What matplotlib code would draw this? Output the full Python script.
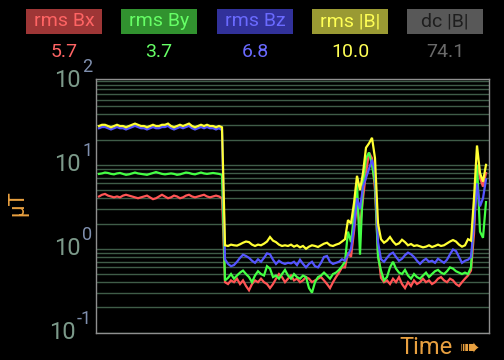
import matplotlib
matplotlib.use("Agg")
import matplotlib.pyplot as plt
import matplotlib.transforms as mtransforms
import numpy as np

plt.rcParams['font.family'] = ['Roboto', 'DejaVu Sans']

# ---------------- data ----------------
header_labels = ["rms Bx", "rms By", "rms Bz", "rms |B|", "dc |B|"]
header_values = ["5.7", "3.7", "6.8", "10.0", "74.1"]

rms_bx = [
    4.2, 4.4, 4.5, 4.3, 4.2, 4.1, 4.2, 4.1, 4.3, 4.4, 4.3, 4.2, 4.1, 4.0, 4.1, 4.2, 4.3, 4.1, 3.9, 4.0,
    4.2, 4.4, 4.2, 4.0, 4.1, 4.3, 4.2, 4.0, 4.1, 4.3, 4.4, 4.2, 4.1, 4.2, 4.3, 4.4, 4.2, 4.1, 4.2, 4.3,
    4.2, 4.0,
    0.40, 0.38, 0.42, 0.40, 0.44, 0.38, 0.42, 0.36, 0.32, 0.38, 0.42, 0.40, 0.44, 0.40, 0.38, 0.34, 0.38, 0.44, 0.50, 0.46,
    0.40, 0.44, 0.48, 0.42, 0.44, 0.40, 0.42, 0.46, 0.44, 0.40, 0.42, 0.44, 0.46, 0.42, 0.38, 0.34, 0.40, 0.46, 0.52, 0.60,
    0.6, 0.9, 0.8, 1.6, 3.5, 1.8, 4.0, 8.0, 14.0, 12.0, 5.0, 0.9,
    0.45, 0.40, 0.42, 0.38, 0.44, 0.40, 0.46, 0.38, 0.34, 0.40, 0.36, 0.42, 0.38, 0.40, 0.44, 0.40, 0.42, 0.38, 0.40, 0.44,
    0.46, 0.42, 0.40, 0.44, 0.42, 0.38, 0.36, 0.40, 0.44, 0.48, 0.55,
    1.5, 10.0, 7.0, 5.5, 8.0,
]
rms_by = [
    7.8, 7.9, 8.1, 8.0, 7.8, 7.7, 7.9, 8.0, 7.8, 7.6, 7.7, 7.9, 8.1, 7.9, 7.8, 7.7, 7.6, 7.8, 8.0, 8.2,
    8.0, 7.8, 7.7, 7.8, 7.9, 7.8, 7.6, 7.7, 7.9, 8.1, 8.0, 7.8, 7.7, 7.9, 8.1, 7.9, 7.8, 7.9, 8.0, 7.9,
    7.8, 7.6,
    0.42, 0.45, 0.50, 0.44, 0.48, 0.52, 0.55, 0.50, 0.46, 0.40, 0.48, 0.54, 0.50, 0.48, 0.62, 0.58, 0.46, 0.48, 0.44, 0.50,
    0.56, 0.48, 0.44, 0.50, 0.46, 0.44, 0.48, 0.46, 0.34, 0.30, 0.40, 0.46, 0.48, 0.52, 0.48, 0.44, 0.50, 0.52, 0.56, 0.62,
    0.7, 1.6, 1.2, 2.5, 6.0, 0.85, 6.0, 12.0, 14.0, 10.0, 6.0, 0.8,
    0.55, 0.42, 0.46, 0.60, 0.70, 0.58, 0.52, 0.50, 0.56, 0.48, 0.44, 0.50, 0.46, 0.44, 0.48, 0.52, 0.46, 0.50, 0.54, 0.56,
    0.52, 0.50, 0.54, 0.60, 0.58, 0.54, 0.52, 0.50, 0.52, 0.50, 0.60,
    2.5, 10.0, 1.6, 1.35, 3.6,
]
rms_bz = [
    27.3, 28.2, 28.2, 27.3, 26.4, 27.3, 28.2, 27.3, 27.3, 26.4, 27.3, 28.2, 29.1, 28.2, 27.3, 27.3, 26.4, 27.3, 28.2, 27.3,
    27.3, 28.2, 28.2, 29.1, 27.3, 26.4, 27.3, 28.2, 27.3, 28.2, 29.1, 27.3, 26.4, 27.3, 28.2, 27.3, 28.2, 27.3, 27.3, 26.4,
    27.3, 26.0,
    0.75, 0.66, 0.62, 0.64, 0.70, 0.78, 0.85, 0.82, 0.78, 0.72, 0.68, 0.75, 0.70, 0.78, 0.88, 0.86, 0.74, 0.66, 0.72, 0.68,
    0.66, 0.68, 0.67, 0.70, 0.64, 0.74, 0.66, 0.60, 0.66, 0.70, 0.62, 0.60, 0.68, 0.80, 0.82, 0.70, 0.66, 0.68, 0.70, 0.75,
    0.72, 0.85, 1.0, 1.8, 4.0, 3.0, 5.5, 7.0, 9.0, 11.5, 8.0, 1.2,
    0.75, 0.70, 0.78, 0.86, 0.90, 0.80, 0.72, 0.76, 0.84, 0.90, 0.86, 0.80, 0.72, 0.66, 0.72, 0.76, 0.70, 0.72, 0.68, 0.76,
    0.72, 0.68, 0.74, 0.86, 0.98, 0.94, 0.80, 0.68, 0.72, 0.74, 0.80,
    2.0, 6.0, 3.2, 4.0, 6.7,
]
rms_b = [
    29, 30, 30, 29, 28, 29, 30, 29, 29, 28, 29, 30, 31, 30, 29, 29, 28, 29, 30, 29,
    29, 30, 30, 31, 29, 28, 29, 30, 29, 30, 31, 29, 28, 29, 30, 29, 30, 29, 29, 28,
    29, 28,
    1.10, 1.08, 1.12, 1.10, 1.09, 1.13, 1.18, 1.22, 1.20, 1.12, 1.08, 1.12, 1.10, 1.15, 1.22, 1.38, 1.25, 1.20, 1.12, 1.08,
    1.10, 1.08, 1.12, 1.06, 1.10, 1.04, 1.08, 1.00, 1.06, 1.10, 1.08, 1.05, 1.10, 1.15, 1.18, 1.10, 1.08, 1.12, 1.15, 1.22,
    1.3, 2.2, 2.0, 3.5, 7.4, 5.0, 8.0, 16.0, 18.0, 21.0, 12.0, 2.0,
    1.30, 1.18, 1.25, 1.38, 1.22, 1.12, 1.16, 1.28, 1.20, 1.10, 1.14, 1.08, 1.10, 1.07, 1.04, 1.06, 1.10, 1.05, 1.08, 1.12,
    1.08, 1.10, 1.16, 1.22, 1.27, 1.22, 1.12, 1.06, 1.10, 1.30, 1.25,
    4.0, 17.0, 8.0, 6.3, 10.0,
]
series = [rms_bx, rms_by, rms_bz, rms_b]

ytick_vals = [0.1, 1, 10, 100]
ytick_exps = ["-1", "0", "1", "2"]

# ---------------- styles ----------------
bg = "black"
line_colors = ["#ff5555", "#44ff44", "#5555ff", "#ffff33"]
box_colors = ["#9e3636", "#31922f", "#31319a", "#9a9a33", "#585858"]
box_text_colors = ["#ff6464", "#66ff66", "#6a6aff", "#ffff55", "#1e1e1e"]
value_colors = ["#ff6464", "#66ff66", "#6a6aff", "#ffff55", "#6a6a6a"]
orange = "#e8a040"
grid_c = "#3f5c48"

W, H = 504, 360
fig = plt.figure(figsize=(W / 100, H / 100), dpi=100, facecolor=bg)
ax = fig.add_axes([96 / W, (H - 332.7) / H, 393 / W, (332.7 - 79.3) / H])
ax.set_facecolor(bg)
ax.set_yscale("log")
ax.set_ylim(0.1, 104.5)
ax.set_xlim(-1, 130)

# grid lines at every log position
for d in [0.1, 1, 10]:
    for m in range(1, 10):
        ax.axhline(d * m, color=grid_c, lw=1.0, zorder=1)
ax.axhline(100, color=grid_c, lw=1.0, zorder=1)

for s, c in zip(series, line_colors):
    x = np.arange(len(s))
    ax.plot(x, s, color=c, lw=1.6, zorder=3, solid_joinstyle="miter")

ax.set_xticks([])
ax.set_yticks([])
ax.minorticks_off()
ax.yaxis.set_minor_locator(matplotlib.ticker.NullLocator())
for sp in ax.spines.values():
    sp.set_color("#8f8f8f")
    sp.set_linewidth(1.0)

# y tick labels
tr = mtransforms.blended_transform_factory(fig.transFigure, ax.transData)
for v, e in zip(ytick_vals, ytick_exps):
    xr = 81 / W if e != "-1" else 75.5 / W
    ax.text(xr, v, "10", transform=tr, ha="right", va="center", fontsize=17,
            color="#7c9a8a", clip_on=False)
    ax.text(xr + 1 / W, v * 10 ** 0.06, e, transform=tr, ha="left", va="bottom",
            fontsize=13, color="#7f8fae", clip_on=False)

# y label
fig.text(18 / W, 1 - 203 / H, "μT", rotation=90, ha="center", va="center",
         fontsize=16, color=orange)

# header boxes
box_x = [26, 121, 217, 312, 407]
for bx, lab, val, bc, tc, vc in zip(box_x, header_labels, header_values,
                                    box_colors, box_text_colors, value_colors):
    fig.patches.append(plt.Rectangle((bx / W, 1 - 34 / H), 76 / W, 25 / H,
                                     transform=fig.transFigure, facecolor=bc,
                                     edgecolor="none"))
    fig.text((bx + 38) / W, 1 - 21.5 / H, lab, ha="center", va="center",
             fontsize=14, color=tc)
    fig.text((bx + 38) / W, 1 - 52 / H, val, ha="center", va="center",
             fontsize=14, color=vc)

# Time label
fig.text(453 / W, 1 - 348 / H, "Time", ha="right", va="center", fontsize=17, color=orange)
fig.text(460 / W, 1 - 348 / H, "➠", ha="left", va="center", fontsize=17,
         color=orange, family=["DejaVu Sans"])

fig.savefig("out.png", dpi=100, facecolor=bg)
